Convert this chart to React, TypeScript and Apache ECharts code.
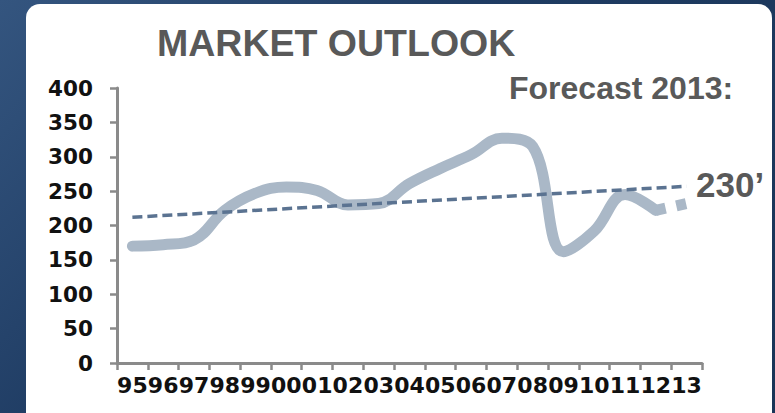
import React, { useEffect, useRef } from "react";
import * as echarts from "echarts";

const categories = ["95", "96", "97", "98", "99", "00", "01", "02", "03", "04", "05", "06", "07", "08", "09", "10", "11", "12", "13"];
const actualValues = [170, 172, 179, 222, 247, 256, 251, 230, 232, 261, 283, 303, 327, 315, 162, 192, 245, 222, null];
const forecastValues = [null, null, null, null, null, null, null, null, null, null, null, null, null, null, null, null, null, 222, 232];
const trendValues = [212, null, null, null, null, null, null, null, null, null, null, null, null, null, null, null, null, null, 257];
const yTicks = { min: 0, max: 400, interval: 50 };

const titleText = "MARKET OUTLOOK";
const forecastText = "Forecast 2013:";
const forecastValueText = "230\u2019";

export default function App() {
  const ref = useRef<HTMLDivElement>(null);
  useEffect(() => {
    if (!ref.current) return;
    const chart = echarts.init(ref.current, undefined, { renderer: "svg" });
    const axisColor = "#8a8a8a";
    const numFont = "DejaVu Sans";
    chart.setOption({
      animation: false,
      backgroundColor: "transparent",
      grid: { left: 117, right: 73, top: 88, bottom: 50, containLabel: false },
      xAxis: {
        type: "category",
        data: categories,
        boundaryGap: true,
        axisLine: { show: true, lineStyle: { color: axisColor, width: 3 } },
        axisTick: { show: true, length: 7, lineStyle: { color: axisColor, width: 2.5 } },
        axisLabel: { color: "#111", fontFamily: numFont, fontWeight: "bold", fontSize: 22, margin: 11, interval: 0 },
        splitLine: { show: false },
      },
      yAxis: {
        type: "value",
        min: yTicks.min,
        max: yTicks.max,
        interval: yTicks.interval,
        axisLine: { show: true, lineStyle: { color: axisColor, width: 3 } },
        axisTick: { show: true, length: 7, lineStyle: { color: axisColor, width: 2.5 } },
        axisLabel: { color: "#111", fontFamily: numFont, fontWeight: "bold", fontSize: 21.5, margin: 24 },
        splitLine: { show: false },
      },
      series: [
        {
          type: "line",
          data: actualValues,
          smooth: 0.4,
          symbol: "none",
          lineStyle: { color: "#aab8c7", width: 11, cap: "round", join: "round" },
          z: 2,
        },
        {
          type: "line",
          data: forecastValues,
          smooth: false,
          symbol: "none",
          lineStyle: { color: "#aab8c7", width: 11, type: [10, 11], cap: "butt" },
          z: 2,
        },
        {
          type: "line",
          data: trendValues,
          connectNulls: true,
          symbol: "none",
          lineStyle: { color: "#5b7391", width: 3.5, type: [10, 5] },
          z: 3,
        },
      ],
      graphic: [
        {
          type: "text",
          left: 157,
          top: 24,
          style: { text: titleText, fill: "#595959", font: "bold 37.5px 'Liberation Sans', Arial, sans-serif" },
        },
        {
          type: "text",
          left: 509,
          top: 72,
          style: { text: forecastText, fill: "#595959", font: "bold 32px 'Liberation Sans', Arial, sans-serif" },
        },
        {
          type: "text",
          left: 696,
          top: 167,
          style: { text: forecastValueText, fill: "#595959", font: "bold 35px 'Liberation Sans', Arial, sans-serif" },
        },
      ],
    });
    return () => chart.dispose();
  }, []);

  return (
    <div
      style={{
        position: "fixed",
        left: 0,
        top: 0,
        width: 775,
        height: 413,
        overflow: "hidden",
        background: "linear-gradient(135deg, #34557f 0%, #1f3c63 40%, #1a3557 100%)",
      }}
    >
      <div
        style={{
          position: "absolute",
          left: 26,
          top: 4,
          width: 746,
          height: 430,
          background: "#ffffff",
          borderRadius: 14,
        }}
      />
      <div ref={ref} style={{ position: "absolute", left: 0, top: 0, width: 775, height: 413 }} />
    </div>
  );
}
